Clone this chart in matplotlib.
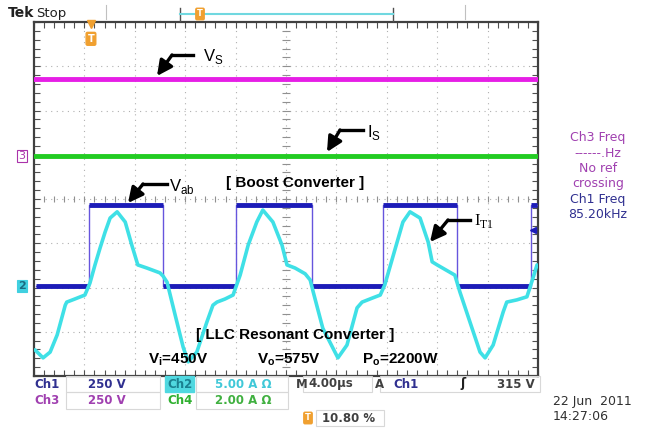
import numpy as np
import matplotlib.pyplot as plt

# screen is 10 x 8 divisions (4 us/div), values read in divisions
vs_level = 2.71
is_level = 0.97
vab_high = -0.14
vab_low = -1.97
vab_start = 0.04
vab_edges = [1.09, 2.56, 4.01, 5.52, 6.92, 8.39, 9.86]  # first one rising

it1_x = [0.02, 0.18, 0.32, 0.46, 0.62, 0.65, 0.81, 1.01, 1.11, 1.21, 1.31, 1.41,
         1.51, 1.65, 1.81, 1.94, 2.06, 2.24, 2.50, 2.56, 2.64, 2.80, 2.96, 3.06,
         3.23, 3.43, 3.55, 3.63, 3.79, 3.95, 4.09, 4.25, 4.42, 4.54, 4.74, 4.92,
         5.02, 5.18, 5.38, 5.48, 5.54, 5.73, 6.03, 6.21, 6.41, 6.51, 6.71, 6.87,
         6.96, 7.16, 7.32, 7.46, 7.66, 7.82, 7.90, 8.00, 8.35, 8.45, 8.65, 8.85,
         8.95, 9.11, 9.31, 9.38, 9.58, 9.78, 9.90, 9.98]
it1_y = [-3.41, -3.59, -3.46, -3.07, -2.40, -2.33, -2.26, -2.17, -1.90, -1.49, -1.11, -0.75,
         -0.43, -0.29, -0.52, -1.04, -1.49, -1.56, -1.67, -1.74, -1.88, -2.62, -3.35, -3.68,
         -3.46, -2.78, -2.40, -2.33, -2.26, -2.17, -1.72, -1.04, -0.52, -0.25, -0.52, -1.04,
         -1.49, -1.56, -1.69, -1.83, -2.10, -2.92, -3.59, -3.30, -2.46, -2.33, -2.24, -2.17,
         -1.94, -1.15, -0.52, -0.29, -0.43, -0.97, -1.42, -1.49, -1.72, -2.10, -2.78, -3.46,
         -3.59, -3.30, -2.55, -2.33, -2.28, -2.21, -1.79, -1.49]
trig_level = -0.70
trig_pos = 1.13

W, H = 666, 432
fig = plt.figure(figsize=(W / 100, H / 100), dpi=100)
fig.patch.set_facecolor('white')
ax = fig.add_axes([34 / W, 56 / H, 504 / W, 354 / H])
ax.set_xlim(0, 10)
ax.set_ylim(-4, 4)


def px(x, y):
    return (x / W, 1 - y / H)


# graticule
for gx in range(1, 10):
    ax.plot([gx, gx], [-4, 4], color='#b0b0b0', lw=0.8, ls=(0, (1, 4)), zorder=1)
for gy in range(-3, 4):
    ax.plot([0, 10], [gy, gy], color='#b0b0b0', lw=0.8, ls=(0, (1, 4)), zorder=1)
minor = np.arange(0, 10.01, 0.2)
ax.vlines(minor, -0.07, 0.07, color='#909090', lw=0.8, zorder=1)
ax.hlines(np.arange(-4, 4.01, 0.2), 4.93, 5.07, color='#909090', lw=0.8, zorder=1)
ax.set_xticks(range(0, 11))
ax.set_xticks(minor, minor=True)
ax.set_yticks(range(-4, 5))
ax.set_yticks(np.arange(-4, 4.01, 0.2), minor=True)
ax.tick_params(which='both', direction='in', length=4, width=0.8, color='#505050',
               top=True, right=True, labelbottom=False, labelleft=False)
for s in ax.spines.values():
    s.set_color('#404040')
    s.set_linewidth(1.6)

# traces
ax.plot([0, 10], [vs_level, vs_level], color='#e61ee6', lw=3.5, zorder=3)
ax.plot([0, 10], [is_level, is_level], color='#22cc22', lw=3.5, zorder=3)

xs, ys = [vab_start], [vab_low]
lvl = vab_low
seg_start = vab_start
hx0, hx1, hy = [], [], []
for e in vab_edges:
    hx0.append(seg_start)
    hx1.append(e)
    hy.append(lvl)
    new = vab_high if lvl == vab_low else vab_low
    xs += [e, e]
    ys += [lvl, new]
    lvl = new
    seg_start = e
hx0.append(seg_start)
hx1.append(9.99)
hy.append(lvl)
xs.append(9.99)
ys.append(lvl)
ax.plot(xs, ys, color='#6655dd', lw=1.0, zorder=4)
ax.hlines(hy, hx0, hx1, color='#1c1cb8', lw=3.5, zorder=4)
ax.plot(it1_x, it1_y, color='#3fe0e6', lw=2.6, zorder=5, solid_joinstyle='round',
        solid_capstyle='round')
ax.plot([9.9], [trig_level], marker='<', color='#1c1cb8', ms=4, zorder=6)


# arrows and labels
def arrow(x0, y0, x1, y1, tx, ty):
    fig.add_artist(plt.Line2D([px(x0, y0)[0], px(x1, y0)[0]], [px(x0, y0)[1], px(x1, y0)[1]],
                              color='black', lw=2.4))
    ax.annotate('', xy=px(tx, ty), xycoords='figure fraction',
                xytext=px(x1, y1), textcoords='figure fraction',
                arrowprops=dict(arrowstyle='-|>,head_length=0.9,head_width=0.45',
                                color='black', lw=2.4, shrinkA=0, shrinkB=0))


arrow(193, 55, 172, 55, 157, 76)
arrow(363, 130, 340, 130, 327, 152)
arrow(167, 184, 143, 184, 128, 203)
arrow(470, 220, 448, 220, 430, 242)

fig.text(*px(203, 57), r'V$_\mathregular{S}$', fontsize=12, va='center', family='Liberation Sans')
fig.text(*px(367, 133), r'I$_\mathregular{S}$', fontsize=12, va='center', family='Liberation Sans')
fig.text(*px(169, 186), r'V$_\mathregular{ab}$', fontsize=12, va='center', family='Liberation Sans')
fig.text(*px(474, 221), r'I$_\mathregular{T1}$', fontsize=12, va='center', family='Liberation Serif')
fig.text(*px(295, 183), '[ Boost Converter ]', fontsize=11, weight='bold', ha='center',
         va='center', family='Liberation Sans')
fig.text(*px(295, 335), '[ LLC Resonant Converter ]', fontsize=11, weight='bold', ha='center',
         va='center', family='Liberation Sans')
fig.text(*px(148, 360), r'V$_\mathregular{i}$=450V', fontsize=11, weight='bold', va='center',
         family='Liberation Sans')
fig.text(*px(257, 360), r'V$_\mathregular{o}$=575V', fontsize=11, weight='bold', va='center',
         family='Liberation Sans')
fig.text(*px(362, 360), r'P$_\mathregular{o}$=2200W', fontsize=11, weight='bold', va='center',
         family='Liberation Sans')

# channel markers on the left
fig.text(*px(22, 156), '3', fontsize=8, color='#aa33aa', ha='center', va='center',
         bbox=dict(boxstyle='square,pad=0.1', fc='white', ec='#aa33aa', lw=0.8))
fig.text(*px(22, 286), '2', fontsize=8, color='#1a6a80', ha='center', va='center', weight='bold',
         bbox=dict(boxstyle='square,pad=0.1', fc='#40d0e0', ec='#40d0e0', lw=0.8))
ax.plot([trig_pos], [3.96], marker='v', color='#f0a030', ms=6, clip_on=False, zorder=6)
ax.text(trig_pos, 3.62, 'T', fontsize=7, color='white', ha='center', va='center', weight='bold',
        bbox=dict(boxstyle='round,pad=0.15', fc='#f0a030', ec='#f0a030'), zorder=6)

# top status line
fig.text(*px(8, 13), 'Tek', fontsize=10, weight='bold', va='center', color='#202020')
fig.text(*px(36, 13), 'Stop', fontsize=9.5, va='center', color='#202020')
fig.add_artist(plt.Line2D([px(106, 0)[0]] * 2, [px(0, 5)[1], px(0, 19)[1]], color='#c0c0c0', lw=0.8))
fig.add_artist(plt.Line2D([px(465, 0)[0]] * 2, [px(0, 5)[1], px(0, 19)[1]], color='#c0c0c0', lw=0.8))
fig.add_artist(plt.Line2D([px(180, 0)[0]] * 2, [px(0, 8)[1], px(0, 21)[1]], color='#505050', lw=1.0))
fig.add_artist(plt.Line2D([px(393, 0)[0]] * 2, [px(0, 8)[1], px(0, 21)[1]], color='#505050', lw=1.0))
fig.add_artist(plt.Line2D([px(180, 0)[0], px(393, 0)[0]], [px(0, 14)[1]] * 2, color='#70d8e0', lw=1.5))
fig.text(*px(200, 14), 'T', fontsize=6, color='white', ha='center', va='center', weight='bold',
         bbox=dict(boxstyle='round,pad=0.15', fc='#f0a030', ec='#f0a030'))

# right measurement panel
ch3c = '#a040b0'
ch1c = '#303090'
for yy, t, c in [(138, 'Ch3 Freq', ch3c), (153, '------.Hz', ch3c), (168, 'No ref', ch3c),
                 (183, 'crossing', ch3c), (199, 'Ch1 Freq', ch1c), (214, '85.20kHz', ch1c)]:
    fig.text(*px(598, yy), t, fontsize=9, color=c, ha='center', va='center')

# bottom readout
fig.text(*px(34, 384), 'Ch1', fontsize=8.5, color=ch1c, va='center', weight='bold')
fig.text(*px(34, 401), 'Ch3', fontsize=8.5, color=ch3c, va='center', weight='bold')
fig.text(*px(88, 384), '250 V', fontsize=8.5, color=ch1c, va='center', weight='bold')
fig.text(*px(88, 401), '250 V', fontsize=8.5, color=ch3c, va='center', weight='bold')
fig.text(*px(167, 384), 'Ch2', fontsize=8.5, color='#1a8090', va='center', weight='bold',
         bbox=dict(boxstyle='square,pad=0.15', fc='#50d8e0', ec='#50d8e0'))
fig.text(*px(167, 401), 'Ch4', fontsize=8.5, color='#30b030', va='center', weight='bold')
fig.text(*px(215, 384), '5.00 A \u03a9', fontsize=8.5, color='#40c8d8', va='center', weight='bold')
fig.text(*px(215, 401), '2.00 A \u03a9', fontsize=8.5, color='#40b040', va='center', weight='bold')
fig.text(*px(296, 384), 'M', fontsize=8.5, color='#404040', va='center', weight='bold')
fig.text(*px(308, 384), '4.00\u00b5s', fontsize=8.5, color='#404040', va='center', weight='bold')
fig.text(*px(375, 384), 'A', fontsize=8.5, color='#404040', va='center', weight='bold')
fig.text(*px(393, 384), 'Ch1', fontsize=8.5, color=ch1c, va='center', weight='bold')
fig.text(*px(460, 384), '\u0283', fontsize=9, color='#202020', va='center', weight='bold')
fig.text(*px(535, 384), '315 V', fontsize=8.5, color='#404040', va='center', ha='right', weight='bold')
fig.text(*px(308, 418), 'T', fontsize=6, color='white', ha='center', va='center', weight='bold',
         bbox=dict(boxstyle='round,pad=0.15', fc='#f0a030', ec='#f0a030'))
fig.text(*px(322, 418), '10.80 %', fontsize=8.5, color='#404040', va='center', weight='bold')
fig.text(*px(553, 401), '22 Jun  2011', fontsize=9, color='#303030', va='center')
fig.text(*px(553, 416), '14:27:06', fontsize=9, color='#303030', va='center')

# readout cell borders
cells = [(66, 376, 160, 392), (66, 392, 160, 409), (196, 376, 288, 392), (196, 392, 288, 409),
         (303, 376, 372, 392), (380, 376, 540, 392), (316, 410, 384, 426)]
for x0, y0, x1, y1 in cells:
    fig.add_artist(plt.Rectangle(px(x0, y1), (x1 - x0) / W, (y1 - y0) / H,
                                 fill=False, ec='#d8d8d8', lw=0.8))

fig.savefig('out.png', dpi=100)
